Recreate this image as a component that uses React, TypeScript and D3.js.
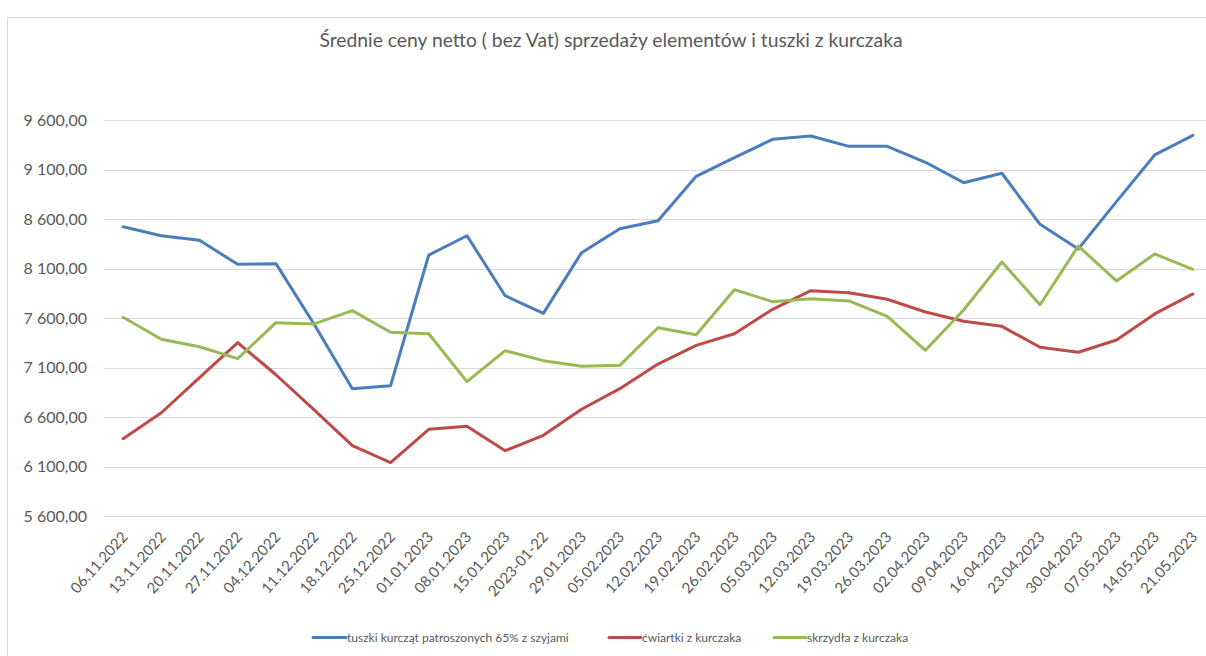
import React from "react";
import * as d3 from "d3";

const categories = [
  "06.11.2022", "13.11.2022", "20.11.2022", "27.11.2022", "04.12.2022", "11.12.2022",
  "18.12.2022", "25.12.2022", "01.01.2023", "08.01.2023", "15.01.2023", "2023-01-22",
  "29.01.2023", "05.02.2023", "12.02.2023", "19.02.2023", "26.02.2023", "05.03.2023",
  "12.03.2023", "19.03.2023", "26.03.2023", "02.04.2023", "09.04.2023", "16.04.2023",
  "23.04.2023", "30.04.2023", "07.05.2023", "14.05.2023", "21.05.2023",
];

const tuszki = [
  8525, 8434, 8388, 8145, 8152, 7540, 6889, 6919, 8239, 8434, 7828, 7650,
  8263, 8505, 8586, 9034, 9222, 9408, 9441, 9337, 9337, 9176, 8970, 9065,
  8549, 8300, 8778, 9250, 9448,
];

const cwiartki = [
  6384, 6646, 7000, 7354, 7030, 6674, 6313, 6141, 6479, 6509, 6263, 6418,
  6681, 6889, 7138, 7327, 7444, 7691, 7879, 7859, 7792, 7664, 7570, 7519,
  7307, 7257, 7381, 7644, 7846,
];

const skrzydla = [
  7610, 7388, 7313, 7192, 7556, 7543, 7677, 7459, 7444, 6960, 7273, 7172,
  7115, 7125, 7505, 7434, 7889, 7768, 7798, 7775, 7620, 7277, 7684, 8169,
  7737, 8330, 7977, 8250, 8095,
];

const seriesNames = [
  "tuszki kurcząt patroszonych 65% z szyjami",
  "ćwiartki z kurczaka",
  "skrzydła z kurczaka",
];

const yTicks = [5600, 6100, 6600, 7100, 7600, 8100, 8600, 9100, 9600];

const title = "Średnie ceny netto ( bez Vat) sprzedaży elementów i tuszki z kurczaka";

const W = 1206;
const H = 656;
const FONT = "Lato, 'Open Sans', sans-serif";
const TEXT = "#595959";
const GRID = "#d9d9d9";
const colors = ["#4a7ebb", "#be4b48", "#98b954"];

const fmt = (v: number) => {
  const s = d3.format(",.2f")(v);
  return s.replace(/,/g, " ").replace(".", ",");
};

export default function App() {
  const x = d3.scalePoint<string>().domain(categories).range([104, 1212]).padding(0.5);
  const y = d3.scaleLinear().domain([5600, 9600]).range([516.3, 120.3]);

  const line = d3
    .line<number>()
    .x((_, i) => x(categories[i]) as number)
    .y((d) => y(d));

  const series = [tuszki, cwiartki, skrzydla];

  const legendItems = [
    { sx: 313, tx: 346 },
    { sx: 609, tx: 641 },
    { sx: 774, tx: 806 },
  ];

  return (
    <svg
      width={W}
      height={H}
      style={{ position: "absolute", left: 0, top: 0, background: "#fff" }}
      fontFamily={FONT}
    >
      <rect x={7.5} y={17.5} width={W + 10} height={H + 10} fill="#fff" stroke={GRID} strokeWidth={1} />
      <text x={611} y={47} textAnchor="middle" fontSize={19.3} fill={TEXT}>
        {title}
      </text>
      {yTicks.map((t) => (
        <g key={t}>
          <line x1={104} x2={1212} y1={Math.round(y(t)) + 0.5} y2={Math.round(y(t)) + 0.5} stroke={GRID} strokeWidth={1} />
          <text x={87} y={y(t)} dy="0.35em" textAnchor="end" fontSize={16} fill={TEXT}>
            {fmt(t)}
          </text>
        </g>
      ))}
      {categories.map((c) => (
        <text
          key={c}
          transform={`translate(${(x(c) as number) + 1.5},534) rotate(-48)`}
          textAnchor="end"
          dy="0.35em"
          fontSize={15}
          fill={TEXT}
        >
          {c}
        </text>
      ))}
      {series.map((s, i) => (
        <path key={i} d={line(s) as string} fill="none" stroke={colors[i]} strokeWidth={3} strokeLinejoin="round" strokeLinecap="round" />
      ))}
      {seriesNames.map((n, i) => (
        <g key={n}>
          <line x1={legendItems[i].sx} x2={legendItems[i].tx} y1={637.5} y2={637.5} stroke={colors[i]} strokeWidth={3} strokeLinecap="round" />
          <text x={legendItems[i].tx + 1} y={637.5} dy="0.35em" fontSize={12} fill={TEXT}>
            {n}
          </text>
        </g>
      ))}
    </svg>
  );
}
